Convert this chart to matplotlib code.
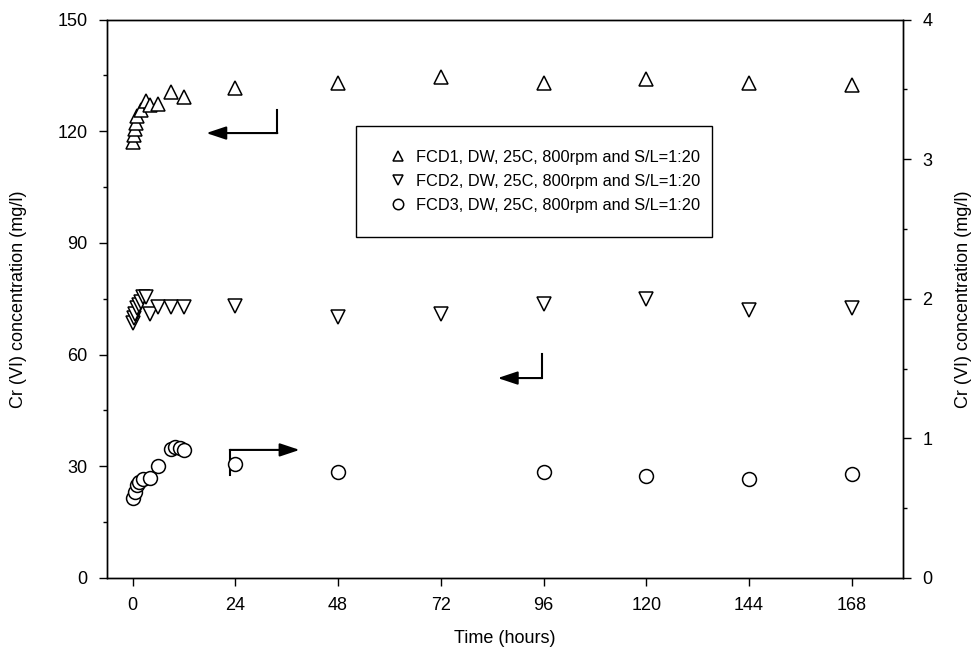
import numpy as np
import matplotlib.pyplot as plt
from matplotlib.patches import Rectangle
from matplotlib.ticker import MultipleLocator

plt.rcParams['font.family'] = ['Liberation Sans', 'DejaVu Sans']

# FCD1 - left axis (mg/l)
t1 = [0, 0.25, 0.5, 0.75, 1, 2, 3, 4, 6, 9, 12, 24, 48, 72, 96, 120, 144, 168]
c1 = [117.2, 119, 120.6, 122.2, 124, 125.7, 128, 127, 127.3, 130.6, 129.1,
      131.5, 133, 134.5, 133, 134, 133, 132.5]

# FCD2 - left axis (mg/l)
t2 = [0, 0.25, 0.5, 1, 1.5, 2, 2.5, 3, 4, 6, 9, 12, 24, 48, 72, 96, 120, 144, 168]
c2 = [68.5, 69.7, 71, 72.5, 73.3, 74.2, 75.5, 75.5, 71, 72.9, 72.9, 72.9,
      73, 70, 71, 73.5, 75, 72, 72.5]

# FCD3 - right axis (mg/l)
t3 = [0, 0.5, 1, 1.5, 2.5, 4, 6, 9, 10, 11, 12, 24, 48, 96, 120, 144, 168]
c3 = [0.573, 0.616, 0.666, 0.688, 0.709, 0.716, 0.80, 0.924, 0.938, 0.93, 0.917,
      0.813, 0.76, 0.76, 0.733, 0.707, 0.747]

labels = ["FCD1, DW, 25C, 800rpm and S/L=1:20",
          "FCD2, DW, 25C, 800rpm and S/L=1:20",
          "FCD3, DW, 25C, 800rpm and S/L=1:20"]

fig = plt.figure(figsize=(9.79, 6.66), dpi=100)
ax = fig.add_axes([107/979, 1 - 578/666, 796/979, 558.5/666])
ax2 = ax.twinx()

mk = dict(linestyle='none', markerfacecolor='white', markeredgecolor='black',
          markeredgewidth=1.1)
h1, = ax.plot(t1, c1, marker='^', markersize=10, label=labels[0], **mk)
h2, = ax.plot(t2, c2, marker='v', markersize=10, label=labels[1], **mk)
h3, = ax2.plot(t3, c3, marker='o', markersize=10, label=labels[2], **mk)

ax.set_xlim(-6, 180)
ax.set_ylim(0, 150)
ax2.set_ylim(0, 4)
ax.set_xticks(np.arange(0, 169, 24))
ax.set_yticks(np.arange(0, 151, 30))
ax2.set_yticks(np.arange(0, 5, 1))
ax.yaxis.set_minor_locator(MultipleLocator(15))
ax2.yaxis.set_minor_locator(MultipleLocator(0.5))

for a in (ax, ax2):
    a.tick_params(which='major', direction='out', length=6, width=1, labelsize=13, pad=8)
    a.tick_params(which='minor', direction='out', length=3, width=1)
    for s in a.spines.values():
        s.set_linewidth(1)
ax.tick_params(axis='x', pad=8)

ax.set_xlabel("Time (hours)", fontsize=13, labelpad=11)
ax.set_ylabel("Cr (VI) concentration (mg/l)", fontsize=13, labelpad=22)
ax2.set_ylabel("Cr (VI) concentration (mg/l)", fontsize=13, labelpad=16)

# pointer arrows
arr = dict(arrowstyle='-|>,head_length=1.2,head_width=0.4', color='black', lw=1.5,
           shrinkA=0, shrinkB=0)
ax.plot([33.8, 33.8], [125.7, 119.5], color='black', lw=1.5)
ax.annotate('', xy=(17.2, 119.5), xytext=(33.8, 119.5), arrowprops=arr)
ax.plot([95.6, 95.6], [60.2, 53.7], color='black', lw=1.5)
ax.annotate('', xy=(85.3, 53.7), xytext=(95.6, 53.7), arrowprops=arr)
ax.plot([22.7, 22.7], [27.7, 34.4], color='black', lw=1.5)
ax.annotate('', xy=(39, 34.4), xytext=(22.7, 34.4), arrowprops=arr)

# legend box
box = (52.3, 91.6, 83.0, 29.8)
ax.add_patch(Rectangle(box[:2], box[2], box[3], fill=True, facecolor='white',
                       edgecolor='black', linewidth=1, zorder=1))
leg = ax.legend(handles=[h1, h2, h3], loc='center right', bbox_to_anchor=box,
                bbox_transform=ax.transData, frameon=False,
                borderaxespad=0.72, borderpad=0, fontsize=11.8, markerscale=0.75,
                handletextpad=0.55, labelspacing=0.56, handlelength=1.0)

fig.savefig("out.png", dpi=100)
